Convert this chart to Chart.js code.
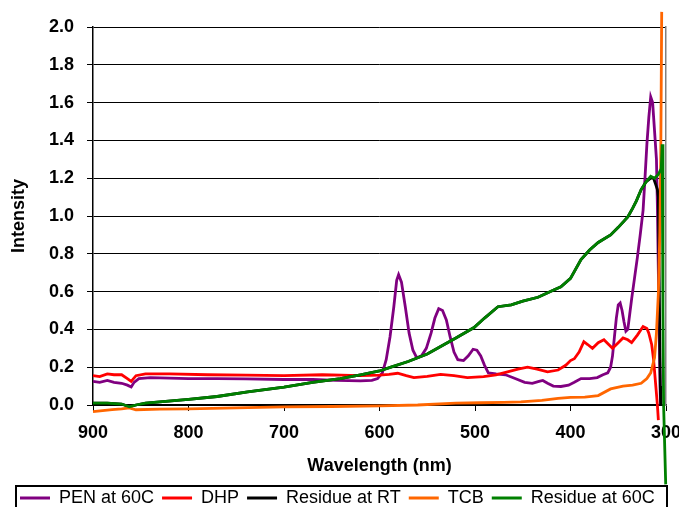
<!DOCTYPE html>
<html>
<head>
<meta charset="utf-8">
<script src="https://cdn.jsdelivr.net/npm/chart.js@4/dist/chart.umd.min.js"></script>
<style>
  html, body { margin: 0; padding: 0; background: #fff; }
  canvas { display: block; }
</style>
</head>
<body>
<canvas id="spectra" width="679" height="507"></canvas>
<script>
// Series names, in legend order
const seriesNames = ['PEN at 60C', 'DHP', 'Residue at RT', 'TCB', 'Residue at 60C'];
const seriesColors = ['#800080', '#ff0000', '#000000', '#ff6600', '#008000'];

// Axis ticks
const wavelengthTicks = [900, 800, 700, 600, 500, 400, 300];
const intensityTicks = [0, 0.2, 0.4, 0.6, 0.8, 1.0, 1.2, 1.4, 1.6, 1.8, 2.0];

// Spectra: [wavelength (nm), intensity]
const penAt60C = [
  [900,0.125],[893,0.12],[885,0.13],[878,0.12],[870,0.115],[864,0.105],[860,0.095],[857,0.12],[852,0.14],[840,0.145],
  [820,0.142],[800,0.14],[770,0.14],[740,0.138],[700,0.135],[670,0.135],[645,0.13],[620,0.128],[608,0.13],[602,0.14],
  [597,0.17],[593,0.24],[589,0.36],[585,0.52],[582,0.66],[580,0.69],[577,0.65],[573,0.52],[569,0.38],[565,0.29],
  [561,0.25],[556,0.26],[551,0.3],[546,0.38],[542,0.46],[538,0.51],[534,0.5],[530,0.45],[526,0.36],[522,0.28],
  [518,0.24],[512,0.235],[507,0.26],[502,0.295],[498,0.29],[494,0.26],[490,0.21],[486,0.17],[478,0.165],[468,0.16],
  [458,0.14],[448,0.12],[440,0.115],[433,0.125],[429,0.13],[424,0.115],[418,0.1],[410,0.098],[402,0.105],[396,0.12],
  [389,0.14],[380,0.14],[372,0.145],[366,0.16],[361,0.17],[358,0.2],[356,0.26],[354,0.36],[352,0.46],[350,0.53],
  [348,0.54],[346,0.5],[344,0.44],[342,0.39],[340,0.4],[338,0.48],[336,0.56],[333,0.67],[330,0.78],[327,0.9],
  [324,1.03],[322,1.2],[320,1.38],[318,1.52],[316,1.63],[314,1.6],[312,1.45],[310,1.3],[309,1.05],[308,0.7],
  [307,0.35],[306,0.05],[305.5,0.0]
];

const dhp = [
  [900,0.155],[893,0.15],[885,0.165],[878,0.16],[870,0.16],[864,0.14],[860,0.125],[855,0.155],[845,0.165],[820,0.165],
  [780,0.16],[740,0.158],[700,0.155],[660,0.16],[640,0.158],[620,0.155],[600,0.158],[590,0.162],[581,0.168],[572,0.155],
  [564,0.145],[550,0.152],[536,0.162],[522,0.155],[508,0.145],[491,0.15],[478,0.16],[466,0.175],[455,0.19],[445,0.2],
  [435,0.19],[424,0.175],[413,0.185],[405,0.21],[400,0.235],[396,0.245],[391,0.28],[386,0.335],[382,0.32],[377,0.3],
  [371,0.33],[365,0.345],[360,0.32],[356,0.3],[350,0.33],[345,0.355],[340,0.345],[336,0.33],[330,0.37],[324,0.415],
  [320,0.405],[318,0.38],[315,0.32],[313,0.24],[311,0.12],[309,0.0],[308,-0.08]
];

const residueAtRT = [
  [900,0.01],[885,0.01],[870,0.005],[862,-0.01],[855,0.0],[845,0.01],[800,0.03],[770,0.045],[738,0.07],[700,0.095],
  [670,0.12],[641,0.14],[620,0.16],[600,0.18],[588,0.2],[570,0.23],[550,0.27],[536,0.31],[520,0.355],[501,0.41],
  [490,0.46],[476,0.52],[462,0.53],[450,0.55],[434,0.57],[417,0.61],[410,0.625],[400,0.67],[389,0.77],[380,0.82],
  [371,0.86],[358,0.9],[350,0.94],[340,0.995],[335,1.04],[331,1.08],[326,1.14],[321,1.18],[316,1.2],[313,1.2],
  [311,1.17],[309,1.14],[308,1.1],[307,0.6],[306,0.1],[305.5,0.0]
];

const tcb = [
  [900,-0.035],[890,-0.03],[880,-0.025],[870,-0.02],[862,-0.015],[855,-0.025],[830,-0.022],[800,-0.02],[750,-0.015],[700,-0.01],
  [650,-0.008],[600,-0.005],[560,0.0],[520,0.01],[494,0.012],[470,0.014],[452,0.016],[430,0.025],[413,0.035],[400,0.04],
  [385,0.042],[371,0.05],[358,0.085],[345,0.1],[335,0.105],[326,0.115],[320,0.14],[316,0.17],[312,0.25],[310,0.38],
  [308,0.59],[306.5,0.91],[305.5,1.3],[304.5,2.08]
];

const residueAt60C = [
  [900,0.01],[885,0.01],[870,0.005],[862,-0.01],[855,0.0],[845,0.01],[800,0.03],[770,0.045],[738,0.07],[700,0.095],
  [670,0.12],[641,0.14],[620,0.16],[600,0.18],[588,0.2],[570,0.23],[550,0.27],[536,0.31],[520,0.355],[501,0.41],
  [490,0.46],[476,0.52],[462,0.53],[450,0.55],[434,0.57],[417,0.61],[410,0.625],[400,0.67],[389,0.77],[380,0.82],
  [371,0.86],[358,0.9],[350,0.94],[340,0.995],[335,1.04],[331,1.08],[326,1.14],[321,1.18],[316,1.21],[312,1.2],
  [308,1.22],[305,1.25],[304,1.38],[303.2,0.5],[302.5,0.0],[300.3,-0.42]
];

const seriesData = [penAt60C, dhp, residueAtRT, tcb, residueAt60C];

const FONT = "'Liberation Sans', Arial, sans-serif";
Chart.defaults.font.family = FONT;
Chart.defaults.color = '#000';

// Legend placement and the box round it
const legendFramePlugin = {
  id: 'legendFrame',
  afterLayout(chart) {
    chart.legend.left = 12;
  },
  afterDraw(chart) {
    const { ctx } = chart;
    ctx.save();
    ctx.strokeStyle = '#000';
    ctx.lineWidth = 2;
    ctx.strokeRect(16, 486, 651, 40);
    ctx.restore();
  }
};

new Chart(document.getElementById('spectra'), {
  type: 'line',
  data: {
    datasets: seriesNames.map((name, i) => ({
      label: name,
      data: seriesData[i].map(([x, y]) => ({ x, y })),
      borderColor: seriesColors[i],
      backgroundColor: seriesColors[i],
      borderWidth: 2.8,
      pointRadius: 0,
      tension: 0,
      fill: false,
      clip: false,
      order: seriesNames.length - i
    }))
  },
  plugins: [legendFramePlugin],
  options: {
    responsive: false,
    animation: false,
    layout: { padding: { top: 27, right: 0, left: 0, bottom: -10 } },
    plugins: {
      tooltip: { enabled: false },
      legend: {
        position: 'bottom',
        align: 'start',
        labels: {
          boxWidth: 30,
          boxHeight: 3,
          padding: 8,
          font: { size: 18 },
          color: '#000',
          sort: (a, b) => a.datasetIndex - b.datasetIndex,
          generateLabels(chart) {
            const items = Chart.defaults.plugins.legend.labels.generateLabels(chart);
            items.forEach(it => { it.lineWidth = 0; });
            return items;
          }
        }
      }
    },
    scales: {
      x: {
        type: 'linear',
        reverse: true,
        min: 300,
        max: 900,
        afterBuildTicks: s => { s.ticks = wavelengthTicks.map(v => ({ value: v })); },
        afterFit: s => { s.height = 76; s.paddingLeft = 0; s.paddingRight = 0; },
        ticks: {
          font: { size: 18, weight: 'bold' },
          color: '#000',
          padding: 11,
          maxRotation: 0,
          callback: v => String(v)
        },
        grid: { drawOnChartArea: false, drawTicks: true, tickLength: 6, color: '#000', lineWidth: 1 },
        border: { display: true, color: '#000', width: 1.5 },
        title: {
          display: true,
          text: 'Wavelength (nm)',
          font: { size: 18, weight: 'bold' },
          color: '#000',
          padding: { top: 0, bottom: 4 }
        }
      },
      y: {
        min: 0,
        max: 2,
        afterBuildTicks: s => { s.ticks = intensityTicks.map(v => ({ value: v })); },
        afterFit: s => { s.width = 93; },
        ticks: {
          font: { size: 18, weight: 'bold' },
          color: '#000',
          padding: 13,
          callback: v => Number(v).toFixed(1)
        },
        grid: { color: '#000', lineWidth: 1, tickLength: 6 },
        border: { display: true, color: '#000', width: 1.5 },
        title: {
          display: true,
          text: 'Intensity',
          font: { size: 18, weight: 'bold' },
          color: '#000',
          padding: { top: 8, bottom: 0 }
        }
      },
      // plain right-hand frame edge of the plot area
      frameRight: {
        position: 'right',
        min: 0,
        max: 2,
        afterFit: s => { s.width = 13; },
        ticks: { display: false },
        grid: { display: false, drawTicks: false },
        border: { display: true, color: '#808080', width: 1.5 }
      }
    }
  }
});
</script>
</body>
</html>
